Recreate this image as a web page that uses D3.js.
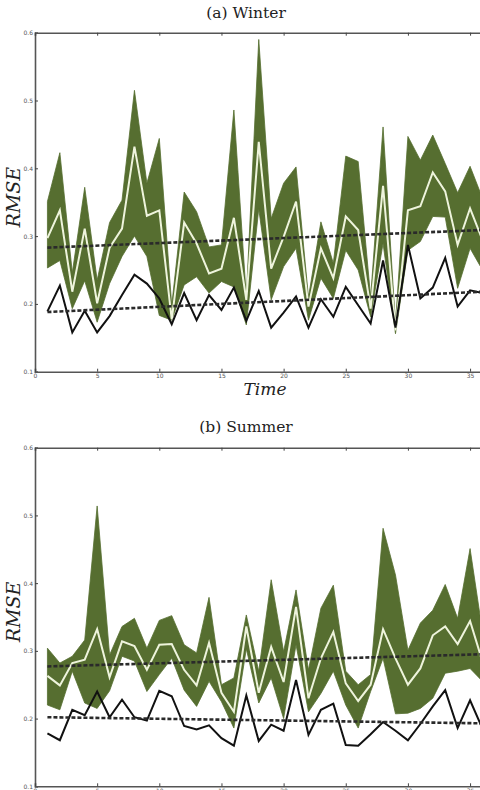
<!DOCTYPE html>
<html><head><meta charset="utf-8">
<script src="https://cdn.jsdelivr.net/npm/d3@7"></script>
<style>html,body{margin:0;padding:0;background:#fff;}svg{display:block;}</style>
</head><body>
<script>
const time = d3.range(1, 37);
const xTicks = [0,5,10,15,20,25,30,35];
const yTicks = [0.1,0.2,0.3,0.4,0.5,0.6];

// Winter
const winterUpper = [0.351,0.423,0.246,0.372,0.235,0.320,0.353,0.515,0.378,0.444,0.198,0.365,0.336,0.284,0.287,0.486,0.210,0.590,
                     0.326,0.378,0.402,0.210,0.321,0.260,0.418,0.410,0.210,0.461,0.171,0.447,0.412,0.449,0.407,0.364,0.403,0.356];
const winterMean  = [0.297,0.338,0.218,0.311,0.201,0.283,0.311,0.432,0.330,0.338,0.177,0.320,0.289,0.245,0.252,0.327,0.206,0.439,
                     0.252,0.299,0.351,0.196,0.282,0.238,0.329,0.309,0.193,0.374,0.161,0.338,0.344,0.394,0.366,0.287,0.341,0.294];
const winterLower = [0.253,0.264,0.193,0.234,0.173,0.230,0.270,0.300,0.270,0.183,0.176,0.228,0.240,0.216,0.233,0.225,0.169,0.340,
                     0.206,0.255,0.282,0.176,0.238,0.208,0.279,0.250,0.181,0.289,0.156,0.279,0.292,0.329,0.328,0.223,0.282,0.250];
const winterBaseline = [0.189,0.227,0.158,0.190,0.158,0.182,0.213,0.243,0.230,0.208,0.170,0.216,0.176,0.213,0.191,0.224,0.175,0.219,
                     0.165,0.187,0.211,0.165,0.207,0.181,0.225,0.198,0.171,0.264,0.165,0.287,0.208,0.224,0.268,0.196,0.220,0.216];
const winterTrendMean = [0.283, 0.309];
const winterTrendBase = [0.188, 0.218];

// Summer
const summerUpper = [0.304,0.282,0.292,0.316,0.514,0.294,0.336,0.348,0.304,0.345,0.352,0.309,0.297,0.379,0.250,0.260,0.353,0.270,
                     0.405,0.299,0.390,0.272,0.363,0.397,0.270,0.250,0.265,0.481,0.412,0.301,0.341,0.360,0.398,0.348,0.451,0.328];
const summerMean  = [0.263,0.249,0.282,0.287,0.332,0.261,0.314,0.307,0.272,0.309,0.310,0.272,0.249,0.312,0.238,0.210,0.336,0.238,
                     0.306,0.254,0.365,0.230,0.289,0.328,0.252,0.226,0.250,0.332,0.289,0.250,0.274,0.323,0.336,0.310,0.344,0.284];
const summerLower = [0.220,0.213,0.270,0.223,0.215,0.241,0.292,0.285,0.240,0.265,0.289,0.242,0.218,0.255,0.225,0.186,0.303,0.223,
                     0.260,0.200,0.309,0.210,0.237,0.270,0.220,0.186,0.240,0.289,0.207,0.208,0.215,0.230,0.267,0.270,0.274,0.255];
const summerBaseline = [0.178,0.168,0.213,0.205,0.240,0.202,0.228,0.202,0.197,0.241,0.233,0.189,0.184,0.190,0.171,0.160,0.234,0.167,
                     0.191,0.182,0.257,0.176,0.213,0.222,0.161,0.160,0.177,0.195,0.182,0.168,0.192,0.218,0.242,0.186,0.227,0.185];
const summerTrendMean = [0.277, 0.295];
const summerTrendBase = [0.202, 0.193];

const panels = [
  {title:"(a) Winter", upper:winterUpper, mean:winterMean, lower:winterLower, base:winterBaseline,
   tMean:winterTrendMean, tBase:winterTrendBase, top:32.7, bottom:371.7, titleY:18, showXLabel:true},
  {title:"(b) Summer", upper:summerUpper, mean:summerMean, lower:summerLower, base:summerBaseline,
   tMean:summerTrendMean, tBase:summerTrendBase, top:447.7, bottom:786.3, titleY:432, showXLabel:false}
];

const W = 480, H = 790;
const svg = d3.select("body").append("svg").attr("width", W).attr("height", H);
const left = 35, right = 482.5;
const x = d3.scaleLinear().domain([0, 36]).range([left, right]);
const green = "#566e30";

panels.forEach((p, i) => {
  const y = d3.scaleLinear().domain([0.1, 0.6]).range([p.bottom, p.top]);
  const g = svg.append("g");
  const clipId = "clip" + i;
  svg.append("clipPath").attr("id", clipId).append("rect")
    .attr("x", left).attr("y", p.top).attr("width", right - left).attr("height", p.bottom - p.top);
  const plot = g.append("g").attr("clip-path", `url(#${clipId})`);

  const area = d3.area().x((d, j) => x(time[j])).y0((d, j) => y(p.lower[j])).y1((d, j) => y(p.upper[j]));
  plot.append("path").datum(p.upper).attr("d", area).attr("fill", green).attr("stroke", green).attr("stroke-width", 0.8);

  const line = arr => d3.line().x((d, j) => x(time[j])).y(d => y(d))(arr);
  plot.append("path").attr("d", line(p.mean)).attr("fill", "none").attr("stroke", "#eef4dc").attr("stroke-width", 2);
  plot.append("path").attr("d", line(p.base)).attr("fill", "none").attr("stroke", "#111").attr("stroke-width", 2)
      .attr("stroke-linejoin", "miter");

  [p.tMean, p.tBase].forEach(t => {
    plot.append("line").attr("x1", x(time[0])).attr("x2", x(time[time.length-1]))
      .attr("y1", y(t[0])).attr("y2", y(t[1]))
      .attr("stroke", "#2a2a2a").attr("stroke-width", 2.6).attr("stroke-dasharray", "4,2");
  });

  // axes
  const axL = g.append("g").attr("transform", `translate(${left},0)`)
    .call(d3.axisLeft(y).tickValues(yTicks).tickSize(-3).tickPadding(2).tickFormat(d3.format(".1f")));
  const axB = g.append("g").attr("transform", `translate(0,${p.bottom})`)
    .call(d3.axisBottom(x).tickValues(xTicks).tickSize(-3).tickPadding(2).tickFormat(d3.format("d")));
  const axT = g.append("g").attr("transform", `translate(0,${p.top})`)
    .call(d3.axisTop(x).tickValues(xTicks).tickSize(-3).tickFormat(""));
  [axL, axB, axT].forEach(a => {
    a.select(".domain").attr("stroke", "#555").attr("stroke-width", 1.6);
    a.selectAll(".tick line").attr("stroke", "#444").attr("stroke-width", 1);
    a.selectAll("text").attr("font-family", "DejaVu Sans").attr("font-size", 6).attr("fill", "#555");
  });

  svg.append("text").attr("x", 246).attr("y", p.titleY).attr("text-anchor", "middle")
    .attr("font-family", "DejaVu Serif").attr("font-size", 15.5).attr("fill", "#222").text(p.title);

  const cy = (p.top + p.bottom) / 2 - 5;
  svg.append("text").attr("transform", `translate(20,${cy}) rotate(-90)`).attr("text-anchor", "middle")
    .attr("font-family", "DejaVu Serif").attr("font-style", "italic").attr("font-size", 19).attr("fill", "#222").text("RMSE");

  if (p.showXLabel) {
    svg.append("text").attr("x", 265).attr("y", 395).attr("text-anchor", "middle")
      .attr("font-family", "DejaVu Serif").attr("font-style", "italic").attr("font-size", 17).attr("fill", "#222").text("Time");
  }
});
</script>
</body></html>
